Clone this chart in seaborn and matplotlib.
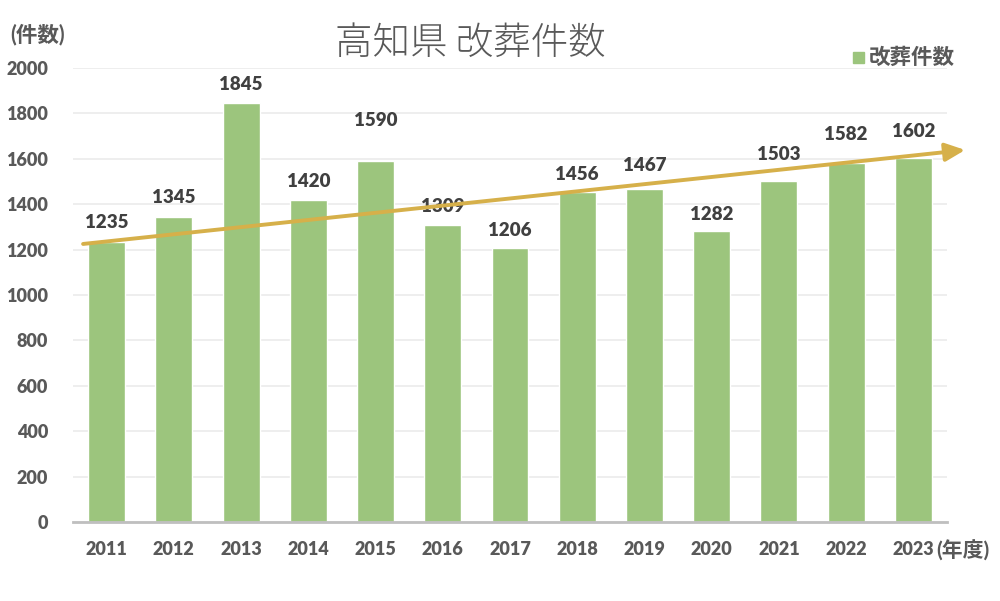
import pandas as pd
import seaborn as sns
import matplotlib.pyplot as plt

# data
years = ['2011', '2012', '2013', '2014', '2015', '2016', '2017',
         '2018', '2019', '2020', '2021', '2022', '2023']
counts = [1235, 1345, 1845, 1420, 1590, 1309, 1206,
          1456, 1467, 1282, 1503, 1582, 1602]
# trend arrow: start / end (x in category units, y in counts)
trend_x = [-0.35, 12.77]
trend_y = [1225, 1639]
# extra gap above each bar for its label (points)
label_pad = [8, 8, 7, 7, 23, 7, 7, 6, 11, 6, 13, 14, 13]

df = pd.DataFrame({'year': years, 'count': counts})

sns.set_style('white')
plt.rcParams['font.family'] = ['Lato', 'Noto Sans CJK JP', 'DejaVu Sans']

bar_color = '#9cc57d'
arrow_color = '#d6b04a'
text_gray = '#595959'
num_weight = 'heavy'

fig = plt.figure(figsize=(10, 6.01), dpi=100)
ax = fig.add_axes([0.073, 0.1314, 0.874, 0.7554])

sns.barplot(data=df, x='year', y='count', color=bar_color, width=0.55,
            saturation=1, ax=ax, zorder=2)

ax.set_xlim(-0.5, len(years) - 0.5)
ax.set_ylim(0, 2000)
ax.set_yticks(range(0, 2001, 200))
ax.yaxis.grid(True, color='#ebebeb', linewidth=1.2, zorder=0)
ax.set_axisbelow(True)
for s in ['top', 'right', 'left']:
    ax.spines[s].set_visible(False)
ax.spines['bottom'].set_color('#bfbfbf')
ax.spines['bottom'].set_linewidth(2)

# tick marks between categories, labels at centres
ax.set_xticks([i - 0.5 for i in range(len(years) + 1)], minor=True)
ax.tick_params(axis='x', which='minor', length=6, width=1.5, color='#bfbfbf', direction='out')
ax.tick_params(axis='x', which='major', length=0, pad=14)
ax.tick_params(axis='y', length=0, pad=18)
for lab in ax.get_xticklabels() + ax.get_yticklabels():
    lab.set_fontsize(13)
    lab.set_fontweight(num_weight)
    lab.set_color(text_gray)
ax.set_xlabel('')
ax.set_ylabel('')

# value labels
for i, v in enumerate(counts):
    ax.annotate(str(v), (i, v), xytext=(0, label_pad[i]), textcoords='offset points',
                ha='center', va='bottom', fontsize=13.5, fontweight=num_weight, color='#404040')

# trend arrow
ax.annotate('', xy=(trend_x[1], trend_y[1]), xytext=(trend_x[0], trend_y[0]),
            arrowprops=dict(arrowstyle='-|>,head_length=1.2,head_width=0.55',
                            color=arrow_color, lw=2.8, shrinkA=0, shrinkB=0),
            annotation_clip=False, zorder=3)

fig.text(0.47, 0.928, '高知県 改葬件数', ha='center', va='center', fontsize=27,
         fontweight='light', color=text_gray, family=['Noto Sans CJK JP'])
fig.text(0.01, 0.942, '(件数)', ha='left', va='center', fontsize=15.5,
         fontweight='bold', color=text_gray)
fig.text(0.936, 0.083, '(年度)', ha='left', va='center', fontsize=15,
         fontweight='bold', color=text_gray)

# legend
fig.patches.append(plt.Rectangle((0.853, 0.895), 0.011, 0.018, color=bar_color,
                                 transform=fig.transFigure, figure=fig))
fig.text(0.869, 0.905, '改葬件数', ha='left', va='center', fontsize=15.5,
         fontweight='bold', color=text_gray)

fig.savefig('out.png', dpi=100, facecolor='white')
